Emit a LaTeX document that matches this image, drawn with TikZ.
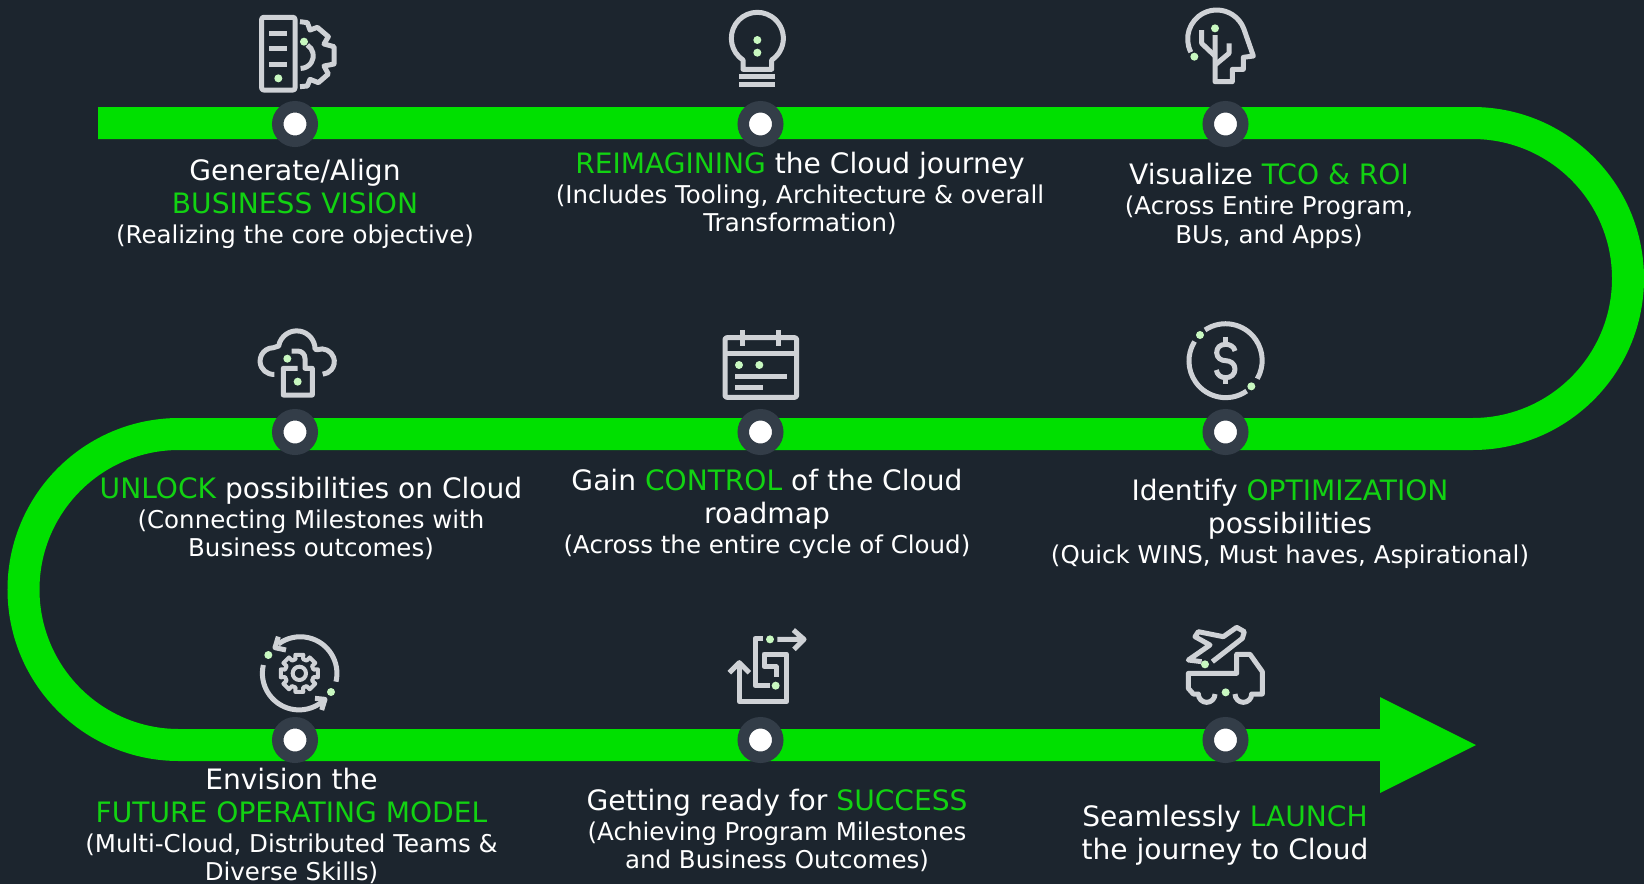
\documentclass[tikz,border=0pt]{standalone}
\usepackage{fontspec}
\setmainfont{DejaVu Sans}
\definecolor{bgcol}{HTML}{1C252E}
\definecolor{bandcol}{HTML}{00E000}
\definecolor{ringcol}{HTML}{333D48}
\definecolor{iconcol}{HTML}{CFD2D6}
\definecolor{spotcol}{HTML}{C8F8C0}
\definecolor{wordcol}{HTML}{12D212}
\newcommand{\bigtxt}{\fontsize{28.1}{28.8}\selectfont}
\newcommand{\smalltxt}{\fontsize{24.5}{28.8}\selectfont}
\newcommand{\grn}[1]{\textcolor{wordcol}{#1}}
\tikzset{
    band/.style={draw=bandcol, line width=32pt},
    stopring/.style={circle, fill=white, draw=ringcol, line width=11.5pt, minimum size=34.5pt, inner sep=0pt},
    steptext/.style={align=center, text=white, inner sep=0pt, anchor=north, font=\smalltxt},
    icon/.style={draw=iconcol, line width=5pt, line join=round},
    spot/.style={fill=spotcol},
}
\begin{document}
\begin{tikzpicture}[x=1pt, y=-1pt]
    \useasboundingbox (0, 0) rectangle (1644, 884);
    \fill[bgcol] (0, 0) rectangle (1644, 884);

    % road
    \draw[band] (98, 123) -- (1472.5, 123) arc[start angle=270, end angle=450, radius=155.5]
        -- (179, 434) arc[start angle=270, end angle=90, radius=155.5] -- (1381, 745);
    \fill[bandcol] (1380, 697) -- (1476, 745) -- (1380, 793) -- cycle;

    \foreach \name/\x/\y in {a/295/124, b/760.5/124, c/1225.5/124, d/295/432, e/760.5/432, f/1225.5/432, g/295/740, h/760.5/740, i/1225.5/740}
        \node[stopring] (\name) at (\x, \y) {};

    % labels
    \node[steptext] (ta) at (295, 159) {\bigtxt Generate/Align\\[4.2pt] \bigtxt \grn{BUSINESS VISION}\\[0.8pt] (Realizing the core objective)};
    \node[steptext] (tb) at (800, 152) {\bigtxt \grn{REIMAGINING} the Cloud journey\\[0.8pt] (Includes Tooling, Architecture \& overall\\ Transformation)};
    \node[steptext] (tc) at (1269, 163) {\bigtxt Visualize \grn{TCO \& ROI}\\[1.5pt] (Across Entire Program,\\ BUs, and Apps)};
    \node[steptext] (td) at (311, 477) {\bigtxt \grn{UNLOCK} possibilities on Cloud\\[0.8pt] (Connecting Milestones with\\ Business outcomes)};
    \node[steptext] (te) at (767, 469) {\bigtxt Gain \grn{CONTROL} of the Cloud\\[4.2pt] \bigtxt roadmap\\[0.8pt] (Across the entire cycle of Cloud)};
    \node[steptext] (tf) at (1290, 479) {\bigtxt Identify \grn{OPTIMIZATION}\\[4.2pt] \bigtxt possibilities\\[0.8pt] (Quick WINS, Must haves, Aspirational)};
    \node[steptext] (tg) at (291.5, 768) {\bigtxt Envision the\\[4.2pt] \bigtxt \grn{FUTURE OPERATING MODEL}\\[0.8pt] (Multi-Cloud, Distributed Teams \&\\ Diverse Skills)};
    \node[steptext] (th) at (777, 789) {\bigtxt Getting ready for \grn{SUCCESS}\\[0.8pt] (Achieving Program Milestones\\ and Business Outcomes)};
    \node[steptext] (ti) at (1225, 805) {\bigtxt Seamlessly \grn{LAUNCH}\\[4.2pt] \bigtxt the journey to Cloud};

    % server and gear
    \begin{scope}[shift={(230, 0)}, scale=1/3]
        \draw[icon, rounded corners=2pt] (95, 52) rectangle (195, 270);
        \draw[icon] (118, 99) -- (172, 99) (118, 146) -- (172, 146) (118, 192) -- (172, 192);
        \draw[icon] (210, 65) -- (232, 68) -- (240, 90) -- (262, 82) -- (295, 110) -- (282, 132) -- (312, 140) -- (312, 192) -- (282, 198) -- (295, 222) -- (265, 248) -- (240, 238) -- (232, 258) -- (210, 260);
        \draw[icon] (232, 135) arc[start angle=-58, end angle=90, radius=38];
        \fill[spot] (145, 235) circle (12);
        \fill[spot] (222, 125) circle (12);
    \end{scope}

    % bulb
    \begin{scope}[shift={(690, 0)}, scale=1/3]
        \draw[icon] (159, 208) -- (159, 180) arc[start angle=123.5, end angle=416.5, radius=78] -- (245, 208) -- cycle;
        \draw[icon] (148, 230) -- (255, 230) (148, 254) -- (255, 254);
        \fill[spot] (202, 120) circle (12);
        \fill[spot] (202, 158) circle (12);
    \end{scope}

    % head
    \begin{scope}[shift={(1155, 0)}, scale=1/3]
        \draw[icon] (107.5, 156.5) arc[start angle=153, end angle=340, radius=87] -- (295, 168) -- (265, 172) -- (265, 208) -- (232, 208) -- (232, 245) -- (180, 245) -- (180, 105);
        \draw[icon] (140, 90) -- (140, 130) -- (180, 168) (222, 130) -- (222, 160) -- (180, 195);
        \fill[spot] (180, 85) circle (12);
        \fill[spot] (118, 170) circle (12);
    \end{scope}

    % cloud and lock
    \begin{scope}[shift={(230, 315)}, scale=1/3]
        \draw[icon] (133, 178) arc[start angle=86, end angle=270, radius=40] -- (146, 93) arc[start angle=190, end angle=360, radius=55] -- (262, 104) arc[start angle=250, end angle=445, radius=38];
        \draw[icon] (203, 160) -- (160, 160) -- (160, 240) -- (247, 240) -- (247, 160) -- (225, 160) -- (225, 130) arc[start angle=0, end angle=-90, radius=22] -- (185, 108);
        \fill[spot] (172, 131) circle (12);
        \fill[spot] (203, 200) circle (12);
    \end{scope}

    % calendar
    \begin{scope}[shift={(690, 315)}, scale=1/3]
        \draw[icon, rounded corners=2pt] (105, 68) rectangle (320, 247);
        \draw[icon] (105, 116) -- (320, 116) (158, 45) -- (158, 93) (266, 45) -- (266, 93);
        \draw[icon] (135, 184) -- (290, 184) (135, 216) -- (220, 216);
        \fill[spot] (147, 150) circle (12);
        \fill[spot] (208, 150) circle (12);
    \end{scope}

    % dollar
    \begin{scope}[shift={(1155, 315)}, scale=1/3]
        \draw[icon] (150, 45) arc[start angle=236, end angle=390, radius=110];
        \draw[icon] (275, 228) arc[start angle=55, end angle=212, radius=110];
        \draw[icon] (212, 65) -- (212, 88) (212, 188) -- (212, 208);
        \draw[icon] (240, 108) .. controls (238, 95) and (225, 88) .. (212, 88) .. controls (195, 88) and (185, 98) .. (185, 113) .. controls (185, 130) and (200, 137) .. (212, 137) .. controls (225, 137) and (240, 145) .. (240, 162) .. controls (240, 178) and (228, 188) .. (212, 188) .. controls (198, 188) and (186, 180) .. (184, 165);
        \fill[spot] (135, 60) circle (12);
        \fill[spot] (289, 214) circle (12);
    \end{scope}

    % cycle and gear
    \begin{scope}[shift={(230, 620)}, scale=1/3]
        \draw[icon] (318, 185) arc[start angle=13, end angle=-127, radius=110];
        \draw[icon] (100, 135) arc[start angle=193, end angle=51, radius=110];
        \draw[icon] (145, 50) -- (135, 83) -- (168, 90);
        \draw[icon] (255, 235) -- (285, 238) -- (275, 270);
        \draw[icon, line width=4pt] (208, 160) circle (20);
        \draw[icon, line width=4pt, shift={(208, 160)}] (-15:44) \foreach \a in {0, 45, ..., 315} {-- ({\a-12}:57) -- ({\a+12}:57) -- ({\a+15}:44) -- ({\a+30}:44)} -- cycle;
        \fill[spot] (115, 105) circle (12);
        \fill[spot] (303, 216) circle (12);
    \end{scope}

    % maze arrows
    \begin{scope}[shift={(690, 620)}, scale=1/3]
        \draw[icon] (148, 130) -- (148, 245) -- (290, 245) -- (290, 102) -- (222, 102) -- (222, 140) -- (258, 140) -- (258, 172);
        \draw[icon] (118, 158) -- (148, 128) -- (178, 158);
        \draw[icon] (220, 55) -- (195, 55) -- (195, 197) -- (240, 197);
        \draw[icon] (262, 58) -- (340, 58) (310, 30) -- (342, 58) -- (312, 88);
        \fill[spot] (240, 58) circle (12);
        \fill[spot] (257, 197) circle (12);
    \end{scope}

    % plane and truck
    \begin{scope}[shift={(1155, 620)}, scale=1/3]
        \draw[icon] (140, 125) -- (100, 120) -- (165, 75) -- (120, 50) -- (130, 35) -- (205, 50) -- (245, 22) -- (268, 35) -- (262, 55) -- (172, 125);
        \draw[icon] (180, 222) arc[start angle=0, end angle=180, radius=25] -- (115, 222) -- (100, 205) -- (100, 160) -- (245, 160) -- (245, 103) -- (285, 103) -- (322, 155) -- (322, 222) -- (290, 222) arc[start angle=0, end angle=180, radius=25];
        \fill[spot] (150, 133) circle (12);
        \fill[spot] (212, 217) circle (12);
    \end{scope}
\end{tikzpicture}
\end{document}
